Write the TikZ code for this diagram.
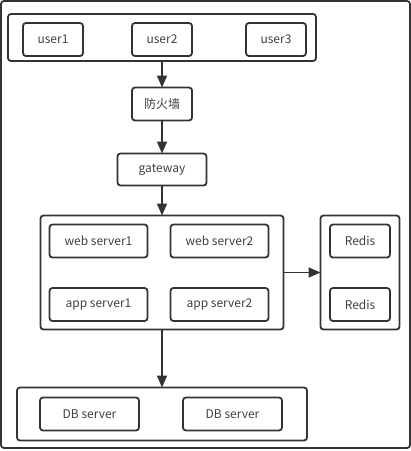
\documentclass[tikz,border=0pt]{standalone}
\usepackage{fontspec}
\setmainfont{Noto Sans CJK SC}
\usetikzlibrary{positioning,arrows.meta}

\definecolor{edgegray}{HTML}{333333}
\definecolor{textgray}{HTML}{404040}

\tikzset{
	box/.style = {draw = edgegray, line width = 1.8pt, rounded corners = 3pt,
		inner sep = 0pt, outer sep = 0pt, minimum height = 33pt, text = textgray,
		font = \fontsize{12pt}{14pt}\selectfont},
	group/.style = {draw = edgegray, line width = 1.8pt, rounded corners = 3pt,
		inner sep = 0pt, outer sep = 0pt},
	flow/.style = {draw = edgegray, line width = 1.8pt,
		-{Triangle[length = 12pt, width = 10pt]}},
}

\begin{document}
\begin{tikzpicture}[x = 1pt, y = -1pt]
		\useasboundingbox (0,0) rectangle (411,451);
		
			% outer frame
			\node [group, minimum width = 409pt, minimum height = 447pt] (frame) at (205.5,224.5) {};
			
			% users
			\node [group, minimum width = 308pt, minimum height = 47pt] (users) at (162,37.5) {};
			\node [box, minimum width = 60pt] (user1) at (53,39.5) {user1};
			\node [box, minimum width = 60pt] (user2) at (162,39.5) {user2};
			\node [box, minimum width = 60pt] (user3) at (276,39.5) {user3};
			
			\node [box, minimum width = 60pt, below = 26.5pt of users] (fw) {防火墙};
			\node [box, minimum width = 89pt, minimum height = 32pt, below = 33pt of fw] (gw) {gateway};
			
			% servers
			\node [group, minimum width = 243pt, minimum height = 114pt, below = 30pt of gw] (servers) {};
			\node [box, minimum width = 98pt] (web1) at (98.5,241) {web server1};
			\node [box, minimum width = 98pt] (web2) at (219.5,241) {web server2};
			\node [box, minimum width = 98pt] (app1) at (98.5,304.5) {app server1};
			\node [box, minimum width = 98pt] (app2) at (219.5,304.5) {app server2};
			
			% cache
			\node [group, minimum width = 79pt, minimum height = 114pt, right = 37pt of servers] (cache) {};
			\node [box, minimum width = 60pt] (redis1) at (cache.center |- web1) {Redis};
			\node [box, minimum width = 60pt] (redis2) at (cache.center |- app1) {Redis};
			
			% database
			\node [group, minimum width = 290pt, minimum height = 53pt, below = 58pt of servers] (db) {};
			\node [box, minimum width = 99pt] (db1) at (89.5,414) {DB server};
			\node [box, minimum width = 99pt] (db2) at (232.5,414) {DB server};
			
			\draw [flow] (users) -- (fw);
			\draw [flow] (fw) -- (gw);
			\draw [flow] (gw) -- (servers);
			\draw [flow] (servers) -- (cache);
			\draw [flow] (servers) -- (db);
				
	\end{tikzpicture}
\end{document}
